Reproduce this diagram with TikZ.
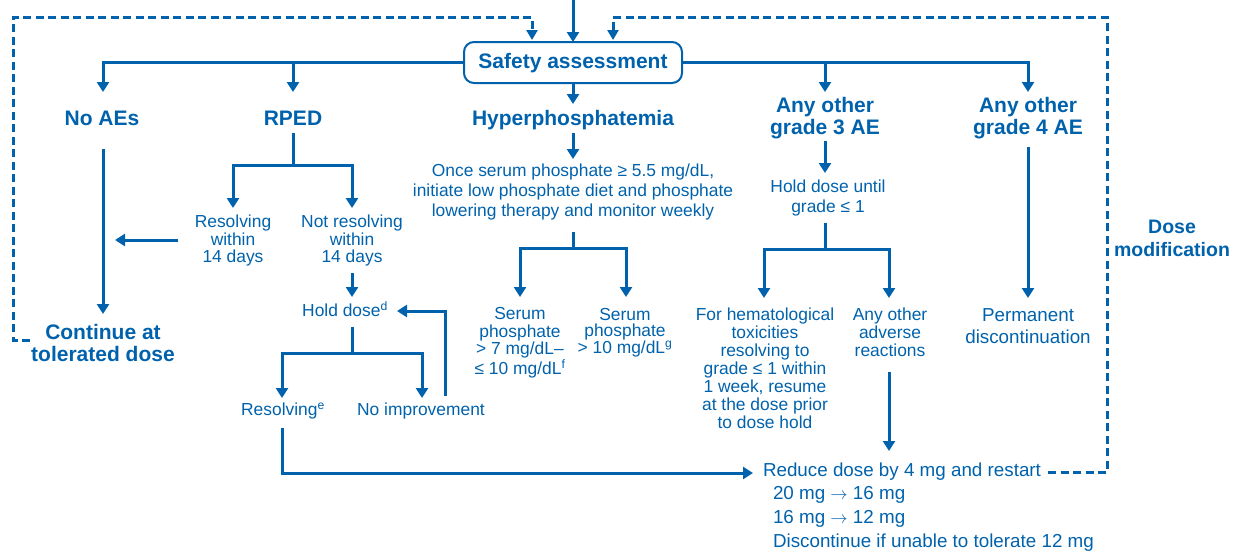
\documentclass[tikz,border=0pt]{standalone}
\usepackage{fontspec}
\setmainfont{Liberation Sans}
\usetikzlibrary{arrows.meta}
\definecolor{mblue}{RGB}{0,98,172}
\newcommand{\mystrut}{\rule[-0.22em]{0pt}{0.97em}}
\begin{document}
\begin{tikzpicture}[x=1pt,y=-1pt,
  every node/.style={inner sep=0pt, outer sep=0pt, text=mblue},
  reg/.style={font=\fontsize{17.4}{18}\selectfont, align=center,
    execute at begin node=\mystrut, execute at end node=\mystrut},
  regb/.style={reg, font=\fontsize{17.4}{#1}\selectfont},
  regl/.style={reg, font=\fontsize{18.8}{#1}\selectfont},
  hd/.style={font=\fontsize{21}{22}\bfseries\selectfont, align=center,
    execute at begin node=\mystrut, execute at end node=\mystrut},
  conn/.style={draw=mblue, line width=3pt},
  arr/.style={conn, -{Triangle[width=12pt,length=10pt]}},
  dsh/.style={draw=mblue, line width=3pt, dash pattern=on 8pt off 4.5pt},
  darr/.style={dsh, -{Triangle[width=11pt,length=10pt]}},
  sbox/.style={hd, draw=mblue, line width=2pt, rounded corners=10pt, fill=white,
    minimum width=218pt, minimum height=41pt}
]
\useasboundingbox (0,0) rectangle (1239,552);

% ---------- nodes ----------
\node[sbox] (safety) at (573,62.5) {Safety assessment};
\node[hd] (noaes) at (102,120) {No AEs};
\node[hd] (rped) at (293,120) {RPED};
\node[hd] (hyper) at (573,120) {Hyperphosphatemia};
\node[hd] (g3) at (825,118) {Any other\\grade 3 AE};
\node[hd] (g4) at (1028,118) {Any other\\grade 4 AE};
\node[hd] (cont) at (103,345) {Continue at\\tolerated dose};
\node[hd, font=\fontsize{19.5}{23}\bfseries\selectfont] (dosemod) at (1172,240) {Dose\\modification};

\node[regb=17.5] (res14) at (233,241) {Resolving\\within\\14 days};
\node[regb=17.5] (notres14) at (352,241) {Not resolving\\within\\14 days};
\node[reg] (hold) at (345,311) {Hold dose\textsuperscript{d}};
\node[reg] (rese) at (283,411) {Resolving\textsuperscript{e}};
\node[reg] (noimp) at (421,411) {No improvement};
\node[regb=20] (once) at (573,192) {Once serum phosphate ≥ 5.5 mg/dL,\\initiate low phosphate diet and phosphate\\lowering therapy and monitor weekly};
\node[regb=17.5] (ser1) at (520,343) {Serum\\phosphate\\> 7 mg/dL–\\≤ 10 mg/dL\textsuperscript{f}};
\node[regb=16] (ser2) at (625,333) {Serum\\phosphate\\> 10 mg/dL\textsuperscript{g}};
\node[regb=20] (holdu) at (828,198) {Hold dose until\\grade ≤ 1};
\node[regb=18] (hema) at (765,370) {For hematological\\toxicities\\resolving to\\grade ≤ 1 within\\1 week, resume\\at the dose prior\\to dose hold};
\node[regb=18] (otherar) at (890,334) {Any other\\adverse\\reactions};
\node[regl=22] (perm) at (1028,328) {Permanent\\discontinuation};
\node[regl=18, anchor=west] (reduce) at (763,472) {Reduce dose by 4 mg and restart};
\node[regl=24, align=left, anchor=west] (steps) at (773,519) {20 mg $\rightarrow$ 16 mg\\16 mg $\rightarrow$ 12 mg\\Discontinue if unable to tolerate 12 mg};

% ---------- coordinates ----------
\coordinate (top) at (573,0);
\coordinate (dl0) at (30,340);
\coordinate (dl1) at (13,17);
\coordinate (dlEnd) at (532,40);
\coordinate (dr0) at (1048,472);
\coordinate (dr1) at (1107,17);
\coordinate (drEnd) at (613,40);

\coordinate (noaesIn) at (103,92);
\coordinate (rpedJ) at (293,62.5);
\coordinate (rpedIn) at (293,92);
\coordinate (g3J) at (825,62.5);
\coordinate (g3In) at (825,92);
\coordinate (g4In) at (1028,92);
\coordinate (hyIn) at (573,104);

\coordinate (naTop) at (103,149);
\coordinate (naBot) at (103,314);
\coordinate (rpedOut) at (293,133);
\coordinate (rpedJ2) at (293,165);
\coordinate (resIn) at (233,208);
\coordinate (notresIn) at (352,208);
\coordinate (resL) at (178,240);
\coordinate (resLend) at (115,240);
\coordinate (notresOut) at (352,273);
\coordinate (holdIn) at (352,297);
\coordinate (holdOut) at (352,327);
\coordinate (holdJ) at (352,353);
\coordinate (reseIn) at (282,398);
\coordinate (noimpIn) at (422,398);
\coordinate (loop0) at (445,396);
\coordinate (loopEnd) at (397,311);
\coordinate (reseOut) at (282,428);
\coordinate (redIn) at (753,473);

\coordinate (hyOut) at (573,133);
\coordinate (onceIn) at (573,159);
\coordinate (onceOut) at (573,232);
\coordinate (onceJ) at (573,248);
\coordinate (s1In) at (520,297);
\coordinate (s2In) at (626,297);

\coordinate (g3Out) at (825,141);
\coordinate (holduIn) at (825,173);
\coordinate (holduOut) at (825,223);
\coordinate (holduJ) at (825,249);
\coordinate (hemaIn) at (764,298);
\coordinate (oarIn) at (889,298);
\coordinate (oarOut) at (889,372);
\coordinate (oarEnd) at (889,451);
\coordinate (g4Out) at (1028,147);
\coordinate (permIn) at (1028,298);

% ---------- connectors ----------
\draw[arr] (top) -- (safety.north);
\draw[darr] (dl0) -| (dl1) -| (dlEnd);
\draw[darr] (dr0) -| (dr1) -| (drEnd);

\draw[arr] (safety.west) -| (noaesIn);
\draw[arr] (rpedJ) -- (rpedIn);
\draw[arr] (safety.east) -| (g4In);
\draw[arr] (g3J) -- (g3In);
\draw[arr] (safety.south) -- (hyIn);

\draw[arr] (naTop) -- (naBot);
\draw[arr] (rpedOut) -- (rpedJ2) -| (resIn);
\draw[arr] (rpedJ2) -| (notresIn);
\draw[arr] (resL) -- (resLend);
\draw[arr] (notresOut) -- (holdIn);
\draw[arr] (holdOut) -- (holdJ) -| (reseIn);
\draw[arr] (holdJ) -| (noimpIn);
\draw[arr] (loop0) |- (loopEnd);
\draw[arr] (reseOut) |- (redIn);

\draw[arr] (hyOut) -- (onceIn);
\draw[arr] (onceOut) -- (onceJ) -| (s1In);
\draw[arr] (onceJ) -| (s2In);

\draw[arr] (g3Out) -- (holduIn);
\draw[arr] (holduOut) -- (holduJ) -| (hemaIn);
\draw[arr] (holduJ) -| (oarIn);
\draw[arr] (oarOut) -- (oarEnd);
\draw[arr] (g4Out) -- (permIn);
\end{tikzpicture}
\end{document}
